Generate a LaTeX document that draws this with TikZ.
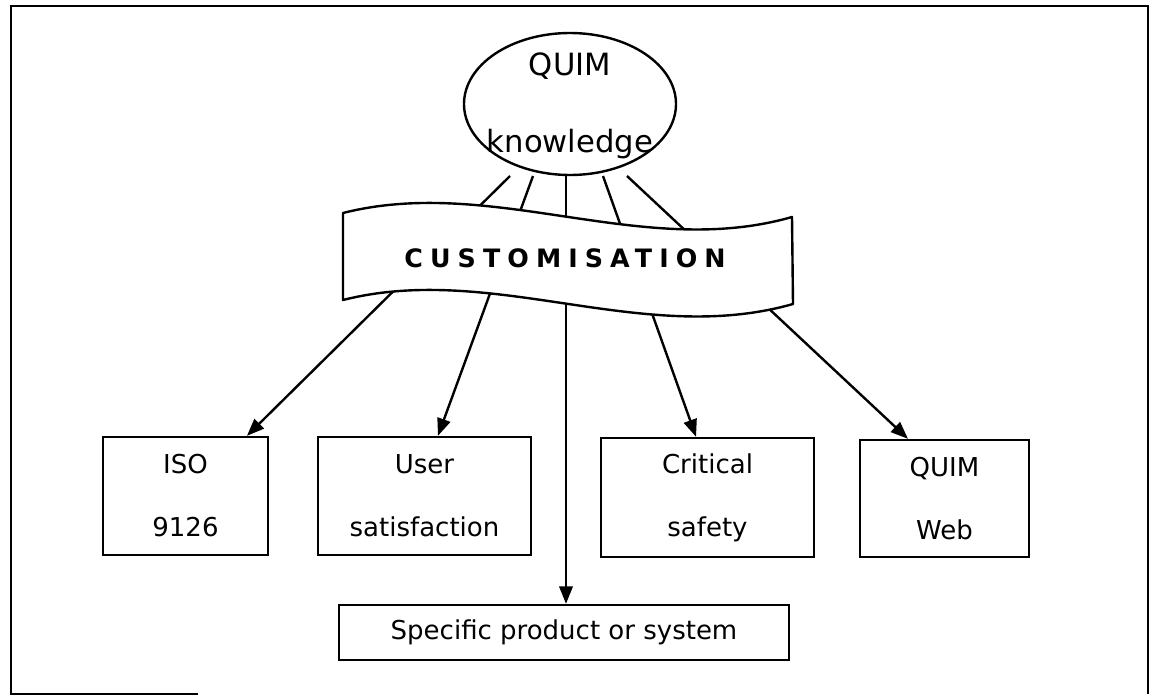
\documentclass[tikz,border=0pt]{standalone}
\usepackage{fontspec}
\setmainfont{DejaVu Sans}
\newfontfamily\bannerfont[LetterSpace=28]{DejaVu Sans}
\usetikzlibrary{shapes.geometric,arrows.meta}
\begin{document}
\begin{tikzpicture}[x=0.75pt,y=-0.75pt,line width=1.8pt,
  itembox/.style={draw,rectangle,inner sep=0pt,align=center,
    font=\fontsize{19.5pt}{47.25pt}\selectfont},
  bubble/.style={draw,ellipse,inner sep=0pt,minimum width=159pt,minimum height=106.5pt},
  bubbletext/.style={anchor=base,inner sep=0pt,font=\fontsize{23pt}{28pt}\selectfont},
  feed/.style={-{Triangle[length=13pt,width=10pt]}},
  ribbon/.style={draw,fill=white,line join=round}]

\useasboundingbox (0,0) rectangle (1153,696);

% outer frame
\draw (198,694) -- (11,694) -- (11,6) -- (1148,6) -- (1148,694);

% knowledge source
\node[bubble] (know) at (570,104) {};
\node[bubbletext] (knowA) at (570,75) {QUIM};
\node[bubbletext] (knowB) at (570,152) {knowledge};

% customised models
\node[itembox,minimum width=123.75pt,minimum height=88.5pt] (iso) at (185.5,496) {ISO\\9126};
\node[itembox,minimum width=159.75pt,minimum height=88.5pt] (user) at (424.5,496) {User\\satisfaction};
\node[itembox,minimum width=159.75pt,minimum height=89.25pt] (crit) at (707.5,497.5) {Critical\\safety};
\node[itembox,minimum width=126.75pt,minimum height=87.75pt] (web) at (944.5,498.5) {QUIM\\Web};
\node[itembox,minimum width=337.5pt,minimum height=41.25pt] (spec) at (564,632.5) {Specific product or system};

% start points of the connectors, just under the ellipse
\coordinate (s1) at (510,176);
\coordinate (s2) at (533,176);
\coordinate (s3) at (566,176);
\coordinate (s4) at (603,176);
\coordinate (s5) at (627,176);

\draw[feed] (s1) -- ([xshift=46.1pt]iso.north);
\draw[feed] (s2) -- ([xshift=10.1pt]user.north);
\draw[feed] (s3) -- ([xshift=1.5pt]spec.north);
\draw[feed] (s4) -- ([xshift=-8.6pt]crit.north);
\draw[feed] (s5) -- ([xshift=-27.4pt]web.north);

% customisation ribbon laid over the connectors
\draw[ribbon] (343,213) .. controls (493,175) and (642,260) .. (792,217)
  -- (793,304) .. controls (642,347) and (493,262) .. (343,300) -- cycle;
\node[anchor=base,inner sep=0pt,font=\bannerfont\bfseries\fontsize{19pt}{22pt}\selectfont]
  (custom) at (565,267) {CUSTOMISATION};
\end{tikzpicture}
\end{document}
